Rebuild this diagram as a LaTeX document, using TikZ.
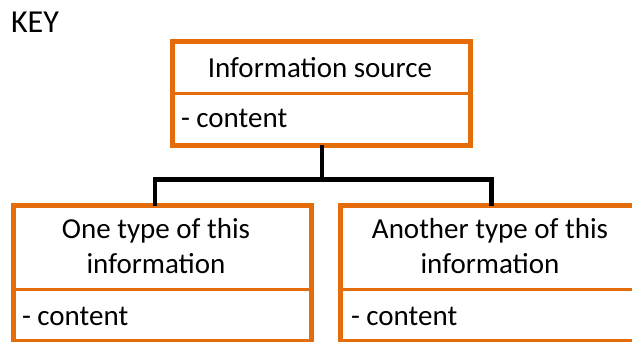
\documentclass[tikz,border=0pt]{standalone}
\usepackage{fontspec}
\setmainfont{Carlito}
\definecolor{boxorange}{HTML}{E46C0A}
\begin{document}
\begin{tikzpicture}[x=1pt,y=-1pt,
  obox/.style={draw=boxorange, line width=5pt, outer sep=0pt, inner sep=0pt, anchor=north west},
  divider/.style={draw=boxorange, line width=3pt},
  conn/.style={draw=black, line width=4.5pt},
  txt/.style={font=\fontsize{29}{34}\selectfont, inner sep=0pt, outer sep=0pt, text=black}]
\useasboundingbox (0,0) rectangle (632,342);
% boxes
\node[obox, minimum width=298pt, minimum height=104pt] (src) at (172.5,41.5) {};
\node[obox, minimum width=298.5pt, minimum height=136pt] (left) at (13,205.5) {};
\node[obox, minimum width=320pt, minimum height=136pt] (right) at (340.5,205.5) {};
% dividers
\draw[divider] (172.5,93.5) -- (470.5,93.5);
\draw[divider] (13,289.5) -- (311.5,289.5);
\draw[divider] (340.5,289.5) -- (660.5,289.5);
% texts
\node[txt, font=\fontsize{32}{36}\selectfont, anchor=base west] (key) at (11,32.5) {KEY};
\node[txt, anchor=base] (srctitle) at (320,78) {Information source};
\node[txt, anchor=base west] (srccontent) at (181,128) {- content};
\node[txt, anchor=base] (lt1) at (156,238.5) {One type of this};
\node[txt, anchor=base] (lt2) at (156,273) {information};
\node[txt, anchor=base west] (lcontent) at (22,325) {- content};
\node[txt, anchor=base] (rt1) at (490,238.5) {Another type of this};
\node[txt, anchor=base] (rt2) at (490,273) {information};
\node[txt, anchor=base west] (rcontent) at (351,325) {- content};
% connectors
\coordinate (j) at (322,179.5);
\coordinate (jl) at (155,179.5);
\coordinate (jr) at (491.5,179.5);
\draw[conn] (src.south -| j) -- (j);
\draw[conn, line cap=rect] (jl) -- (jr);
\draw[conn] (jl) -- (jl |- left.north);
\draw[conn] (jr) -- (jr |- right.north);
\end{tikzpicture}
\end{document}
